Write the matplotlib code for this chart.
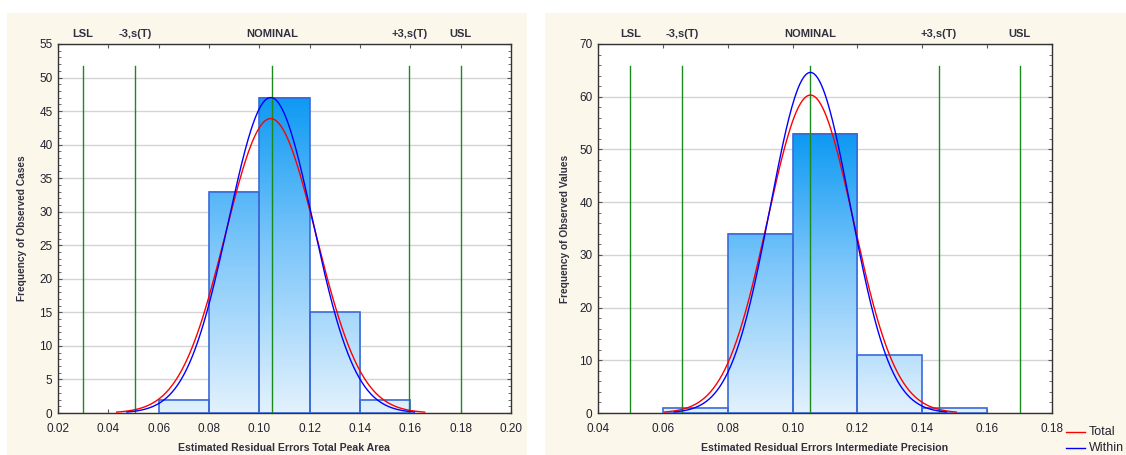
import numpy as np
import matplotlib
matplotlib.use('Agg')
from matplotlib import pyplot as plt
from matplotlib.colors import LinearSegmentedColormap, Normalize
from matplotlib.patches import Rectangle
from matplotlib.ticker import MultipleLocator

plt.rcParams['font.family'] = ['Liberation Sans', 'DejaVu Sans']

# histogram bins and counts
bin_edges = [0.06, 0.08, 0.10, 0.12, 0.14]
bin_width = 0.02
counts_area = [2, 33, 47, 15, 2]
counts_prec = [1, 34, 53, 11, 1]

# fitted normal curves (mean, sigma)
area_mean = 0.1045
area_sigma_total = 0.0180
area_sigma_within = 0.0168
prec_mean = 0.1055
prec_sigma_total = 0.01323
prec_sigma_within = 0.01235

# specification lines
spec_labels = ['LSL', '-3,s(T)', 'NOMINAL', '+3,s(T)', 'USL']
spec_area = [0.030, 0.0506, 0.105, 0.1595, 0.180]
spec_prec = [0.050, 0.066, 0.1055, 0.145, 0.170]

xlabels = ['Estimated Residual Errors Total Peak Area',
           'Estimated Residual Errors Intermediate Precision']
ylabels = ['Frequency of Observed Cases', 'Frequency of Observed Values']

W, H = 1126, 455
fig = plt.figure(figsize=(W / 100, H / 100), dpi=100)
fig.patch.set_facecolor('white')

# beige panels
for x0, x1 in [(7, 527), (545, 1126)]:
    fig.patches.append(Rectangle((x0 / W, 0), (x1 - x0) / W, (H - 13) / H,
                                 transform=fig.transFigure, facecolor='#fcf7eb',
                                 edgecolor='none', zorder=-10))

cmap = LinearSegmentedColormap.from_list('bars', ['#e2f1fd', '#7cc6fa', '#0094f2'])
txt_col = '#22222f'


def draw(ax, counts, mean, s_tot, s_win, specs, xlim, xstep, ylim, ystep, yminor, xlabel, ylabel, label_x):
    norm = Normalize(0, 50 if ylim[1] < 60 else 56)
    for x0, c in zip(bin_edges, counts):
        ys = np.linspace(0, c, 100)
        img = cmap(norm(ys))[:, None, :]
        ax.imshow(img, extent=(x0, x0 + bin_width, 0, c), origin='lower',
                  aspect='auto', zorder=2, interpolation='bilinear')
    ax.bar(bin_edges, counts, width=bin_width, align='edge', facecolor='none',
           edgecolor='#3a6ad8', linewidth=1.2, zorder=3)
    ax.set_xlim(*xlim)
    ax.set_ylim(*ylim)

    n = sum(counts)
    for s, col in [(s_tot, '#ff0000'), (s_win, '#0000ff')]:
        xs = np.linspace(mean - 3.4 * s, mean + 3.4 * s, 300)
        ys = n * bin_width / (s * np.sqrt(2 * np.pi)) * np.exp(-0.5 * ((xs - mean) / s) ** 2)
        ax.plot(xs, ys, color=col, lw=1.0, zorder=5)

    for x, lab in zip(specs, spec_labels):
        ax.axvline(x, ymin=0, ymax=0.94, color='#1a8a1a', lw=1.0, zorder=4)
        ax.text(x, 1.027, lab, transform=ax.get_xaxis_transform(), ha='center',
                va='center', fontsize=8, fontweight='bold', color='#303040')

    ax.xaxis.set_major_locator(MultipleLocator(xstep))
    ax.yaxis.set_major_locator(MultipleLocator(ystep))
    ax.yaxis.set_minor_locator(MultipleLocator(yminor))
    ax.xaxis.set_major_formatter(plt.FormatStrFormatter('%.2f'))
    ax.tick_params(which='both', direction='in', top=True, right=True,
                   labelsize=8.5, labelcolor=txt_col, color='#555555')
    ax.tick_params(which='major', length=3)
    ax.tick_params(which='minor', length=2)
    ax.tick_params(axis='x', pad=7)
    ax.tick_params(axis='y', pad=4)
    ax.grid(axis='y', color='#d4d4d4', lw=1.0, zorder=0)
    ax.set_axisbelow(True)
    for sp in ax.spines.values():
        sp.set_color('#333333')
        sp.set_linewidth(1.0)

    bb = ax.get_position()
    fig.text((bb.x0 + bb.x1) / 2, 7 / H, xlabel, ha='center', va='center',
             fontsize=7.6, fontweight='bold', color='#303040')
    fig.text(label_x / W, (bb.y0 + bb.y1) / 2, ylabel, ha='center', va='center',
             rotation=90, fontsize=7.3, fontweight='bold', color='#303040')


ax1 = fig.add_axes([58 / W, (H - 413) / H, 453 / W, 369 / H])
ax2 = fig.add_axes([598 / W, (H - 413) / H, 454 / W, 369 / H])

draw(ax1, counts_area, area_mean, area_sigma_total, area_sigma_within, spec_area,
     (0.02, 0.20), 0.02, (0, 55), 5, 1, xlabels[0], ylabels[0], 22)
draw(ax2, counts_prec, prec_mean, prec_sigma_total, prec_sigma_within, spec_prec,
     (0.04, 0.18), 0.02, (0, 70), 10, 2, xlabels[1], ylabels[1], 565)

# legend
for y, lab, col in [(432, 'Total', '#ff0000'), (448, 'Within', '#0000ff')]:
    fig.add_artist(plt.Line2D([1066 / W, 1085 / W], [(H - y) / H] * 2,
                              transform=fig.transFigure, color=col, lw=1.0))
    fig.text(1089 / W, (H - y) / H, lab, ha='left', va='center', fontsize=9, color=txt_col)

fig.savefig('out.png', dpi=100)
